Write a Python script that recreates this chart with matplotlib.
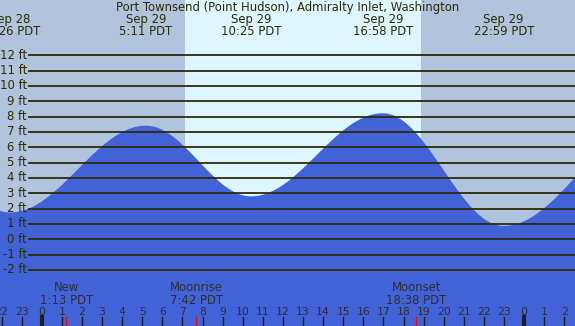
import numpy as np
import matplotlib
matplotlib.use("Agg")
import matplotlib.pyplot as plt
import matplotlib.transforms as mtransforms

# ---- data (hours relative to Sep 29 00:00 PDT) ----
title = "Port Townsend (Point Hudson), Admiralty Inlet, Washington"
tide_hours = [-7.8, -1.567, 5.183, 10.417, 16.967, 22.983, 30.3]
tide_heights = [8.3, 1.75, 7.41, 2.8, 8.22, 0.87, 7.5]
label_hours = [-1.567, 5.183, 10.417, 16.967, 22.983]
label_dates = ["Sep 28", "Sep 29", "Sep 29", "Sep 29", "Sep 29"]
label_times = ["22:26 PDT", "5:11 PDT", "10:25 PDT", "16:58 PDT", "22:59 PDT"]
sunrise_h = 7.13
sunset_h = 18.87
moon_hours = [1.217, 7.7, 18.633]
moon_names = ["New", "Moonrise", "Moonset"]
moon_times = ["1:13 PDT", "7:42 PDT", "18:38 PDT"]
ft_levels = list(range(-2, 13))
hour_ticks = list(range(-2, 27))

# ---- style ----
night_c = "#B0C4DE"
day_c = "#DDF6FF"
water_c = "#4262D8"
line_c = "#2B2B08"
text_c = "#2B2B00"
W, H = 575, 326
xmin_h, xmax_h = -2.075, 26.53
ymin_ft, ymax_ft = -5.656, 15.61

fig = plt.figure(figsize=(W / 100, H / 100), dpi=100)
ax = fig.add_axes([0, 0, 1, 1])
ax.set_xlim(xmin_h, xmax_h)
ax.set_ylim(ymin_ft, ymax_ft)
ax.axis("off")
fig.patch.set_facecolor(night_c)
ax.set_facecolor(night_c)

ax.axvspan(xmin_h, xmax_h, color=night_c, zorder=0)
ax.axvspan(sunrise_h, sunset_h, color=day_c, zorder=0.5, lw=0)

# tide curve: cosine interpolation between extremes
th = np.array(tide_hours)
hh = np.array(tide_heights)
xs = np.linspace(xmin_h, xmax_h, 1200)
ys = np.empty_like(xs)
for i, x in enumerate(xs):
    k = np.searchsorted(th, x) - 1
    k = min(max(k, 0), len(th) - 2)
    f = (x - th[k]) / (th[k + 1] - th[k])
    ys[i] = hh[k] + (hh[k + 1] - hh[k]) * (1 - np.cos(np.pi * f)) / 2
ax.fill_between(xs, ymin_ft - 1, ys, color=water_c, lw=0, zorder=1)

fs = 8.4
fam = "DejaVu Sans"
# horizontal lines + labels
for v in ft_levels:
    ax.axhline(v, xmin=29 / W, xmax=1, color=line_c, lw=1.3, zorder=2)
    ax.text(26.8 / W, v, f"{v} ft", transform=mtransforms.blended_transform_factory(ax.transAxes, ax.transData),
            ha="right", va="center", fontsize=fs, color=text_c, family=fam, zorder=3)

tr = mtransforms.blended_transform_factory(ax.transData, fig.transFigure)


def fy(py):
    return 1 - py / H


fig.text(0.5, fy(7.5), title, ha="center", va="center", fontsize=fs, color=text_c, family=fam)
for h, d, t in zip(label_hours, label_dates, label_times):
    ax.text(h, fy(20), d, transform=tr, ha="center", va="center", fontsize=fs, color=text_c, family=fam)
    ax.text(h, fy(31.5), t, transform=tr, ha="center", va="center", fontsize=fs, color=text_c, family=fam)

for h, n, t in zip(moon_hours, moon_names, moon_times):
    ax.text(h, fy(287.5), n, transform=tr, ha="center", va="center", fontsize=fs, color="#2e2e2e", family=fam)
    ax.text(h, fy(300), t, transform=tr, ha="center", va="center", fontsize=fs, color="#2e2e2e", family=fam)
    ax.plot([h, h], [fy(317), fy(326)], transform=tr, color="red", lw=1.0, zorder=4)

for h in hour_ticks:
    ax.text(h, fy(312), str(h % 24), transform=tr, ha="center", va="center", fontsize=7.8,
            color="#2e2e2e", family=fam)
    lw = 3.0 if h % 24 == 0 else 1.0
    ax.plot([h, h], [fy(317), fy(326)], transform=tr, color="#1e1e1e", lw=lw, zorder=3)

fig.savefig("out.png", dpi=100, facecolor=night_c)
